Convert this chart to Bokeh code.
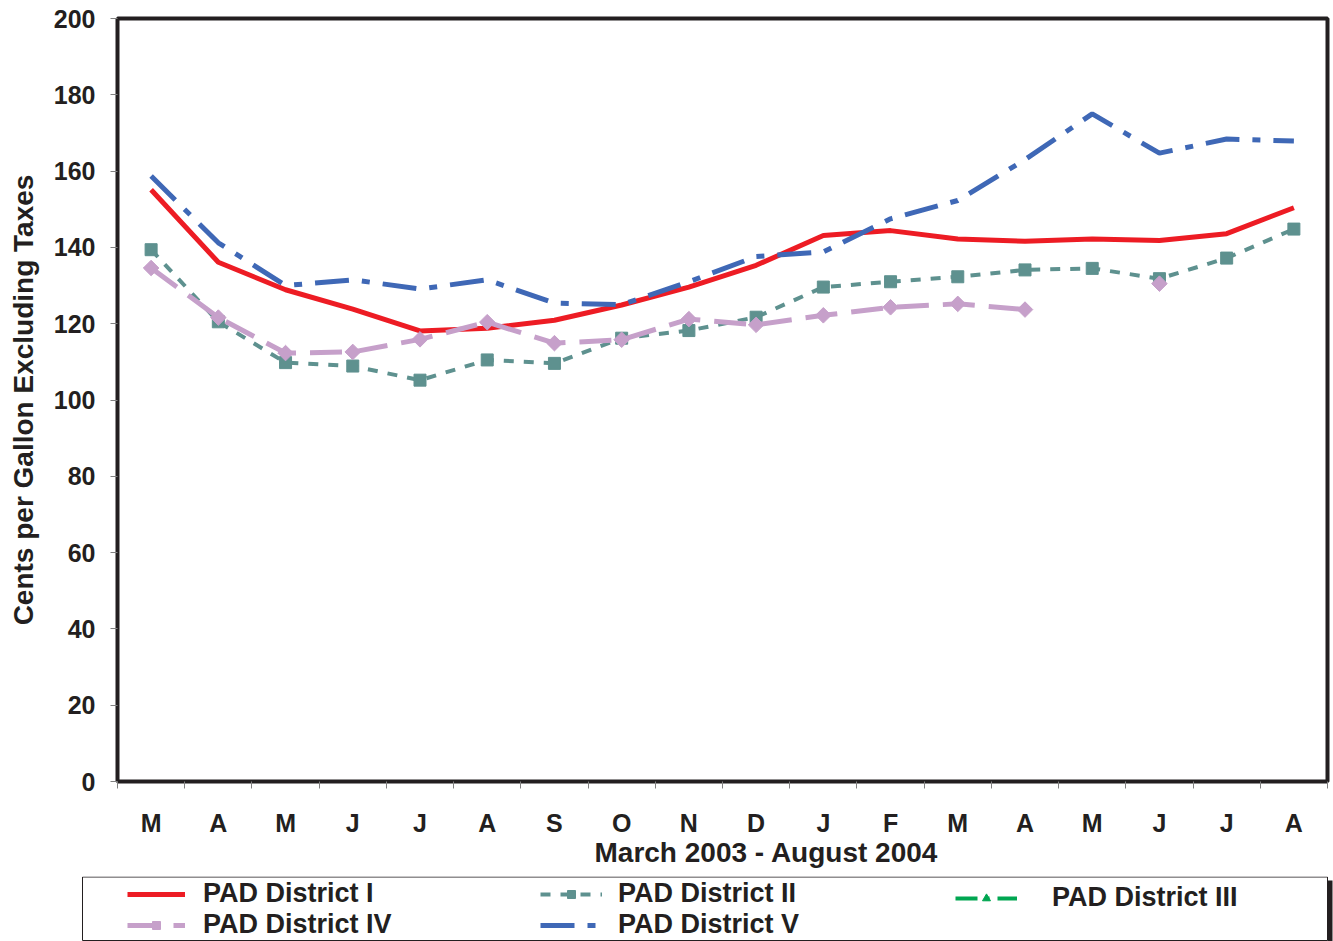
from bokeh.plotting import figure
from bokeh.layouts import column
from bokeh.models import Range1d, FixedTicker, Legend, LegendItem, Title
from bokeh.embed import file_html
from bokeh.resources import INLINE
import numpy as np

# ---- data -------------------------------------------------------------
months = ["M", "A", "M", "J", "J", "A", "S", "O", "N", "D",
          "J", "F", "M", "A", "M", "J", "J", "A"]
y_ticks = [0, 20, 40, 60, 80, 100, 120, 140, 160, 180, 200]
series_names = ["PAD District I", "PAD District II", "PAD District III",
                "PAD District IV", "PAD District V"]
pad1 = [155.1, 136.1, 128.9, 123.8, 118.1, 118.8, 120.9, 124.9, 129.6, 135.3,
        143.1, 144.4, 142.2, 141.6, 142.2, 141.8, 143.6, 150.4]
pad2 = [139.4, 120.5, 109.8, 108.9, 105.2, 110.5, 109.6, 116.2, 118.2, 121.7,
        129.6, 131.0, 132.3, 134.1, 134.5, 131.8, 137.2, 144.8]
pad3 = [None] * 18
pad4 = [134.6, 121.6, 112.3, 112.6, 115.9, 120.4, 114.9, 115.8, 121.2, 119.7,
        122.2, 124.3, 125.2, 123.7, None, 130.5, None, None]
pad5 = [158.7, 141.2, 130.0, 131.5, 129.1, 131.5, 125.4, 125.0, 131.0, 137.6,
        138.8, 147.5, 152.3, 163.0, 175.0, 164.7, 168.4, 167.9]

colors = ["#ED1C24", "#5E918F", "#00A651", "#C6A0CA", "#3F68B6"]
ink = "#231F20"
font = "Liberation Sans"

# line / marker styles per series
line_widths = [5, 4, 4, 5, 5]
line_dashes = ["solid", "10 10", "22 8 4 8", "32 14", "34 13 8 13"]
markers = [None, "square", "triangle", "square", None]
marker_sizes = [0, 12, 13, 11, 0]
marker_angles = [0, 0, 0, 0.785398, 0]


def arr(v):
    return np.array([np.nan if a is None else a for a in v], dtype=float)


def draw_series(fig, xs, ys, k):
    rs = [fig.line(xs, ys, line_color=colors[k], line_width=line_widths[k],
                   line_dash=line_dashes[k])]
    if markers[k]:
        rs.append(fig.scatter(xs, ys, marker=markers[k], size=marker_sizes[k],
                              angle=marker_angles[k], fill_color=colors[k],
                              line_color=colors[k]))
    return rs


def no_frame_align(fig):
    if "frame_align" in fig.properties():
        fig.frame_align = False


x = list(range(1, len(months) + 1))
series = [pad1, pad2, pad3, pad4, pad5]

# ---- main chart -------------------------------------------------------
p = figure(frame_width=1210, frame_height=763,
           min_border_left=117, min_border_right=6,
           min_border_top=18, min_border_bottom=95,
           x_range=Range1d(0.5, len(months) + 0.5), y_range=Range1d(0, 200),
           output_backend="svg", toolbar_location=None, tools="")
no_frame_align(p)
p.xgrid.visible = False
p.ygrid.visible = False
p.outline_line_color = ink
p.outline_line_width = 4
p.background_fill_color = "white"
p.border_fill_color = "white"

for k, s in enumerate(series):
    draw_series(p, x, arr(s), k)

p.xaxis.ticker = FixedTicker(ticks=x, minor_ticks=[i + 0.5 for i in range(len(months) + 1)])
p.xaxis.major_label_overrides = {i + 1: m for i, m in enumerate(months)}
p.xaxis.axis_line_color = None
p.xaxis.major_tick_out = 0
p.xaxis.major_tick_in = 0
p.xaxis.minor_tick_out = 7
p.xaxis.minor_tick_in = 0
p.xaxis.minor_tick_line_color = "#808080"
p.xaxis.major_label_standoff = 20
p.xaxis.major_label_text_font = font
p.xaxis.major_label_text_font_style = "bold"
p.xaxis.major_label_text_font_size = "25px"
p.xaxis.major_label_text_color = ink

p.yaxis.ticker = FixedTicker(ticks=y_ticks)
p.yaxis.axis_line_color = None
p.yaxis.major_tick_out = 7
p.yaxis.major_tick_in = 0
p.yaxis.major_tick_line_color = "#808080"
p.yaxis.minor_tick_line_color = None
p.yaxis.major_label_standoff = 15
p.yaxis.major_label_text_font = font
p.yaxis.major_label_text_font_style = "bold"
p.yaxis.major_label_text_font_size = "25px"
p.yaxis.major_label_text_color = ink
p.yaxis.axis_label = "Cents per Gallon Excluding Taxes"
p.yaxis.axis_label_standoff = 12
p.yaxis.axis_label_text_font = font
p.yaxis.axis_label_text_font_style = "bold"
p.yaxis.axis_label_text_font_size = "28px"
p.yaxis.axis_label_text_color = ink

xtitle = Title(text="March 2003 - August 2004", align="left", offset=477,
               standoff=-10, text_font=font, text_font_style="bold",
               text_font_size="28px", text_color=ink)
p.add_layout(xtitle, "below")

# ---- legend strip -----------------------------------------------------
lf = figure(frame_width=1333, frame_height=65,
            x_range=Range1d(0, 1333), y_range=Range1d(0, 65),
            min_border_left=0, min_border_right=0, min_border_top=0,
            min_border_bottom=0, x_axis_type=None, y_axis_type=None,
            output_backend="svg", toolbar_location=None, tools="")
no_frame_align(lf)
lf.outline_line_color = None
lf.background_fill_color = "white"
lf.border_fill_color = "white"

# legend box and its drop shadow
lf.quad(left=[1327], right=[1332], bottom=[0], top=[61],
        fill_color=ink, line_color=None)
lf.quad(left=[82], right=[1327], bottom=[1], top=[64.5],
        fill_color="white", line_color=ink, line_width=1)

proxies = [draw_series(lf, [np.nan], [np.nan], k) for k in range(len(series))]

legend_cols = [([0, 3], 127, 58, 18), ([1, 4], 540, 62, 16), ([2], 955, 62, 35)]
for idx, x0, gw, standoff in legend_cols:
    leg = Legend(items=[LegendItem(label=series_names[k], renderers=proxies[k])
                        for k in idx],
                 location=(x0, 1 if len(idx) == 2 else 28),
                 orientation="vertical", glyph_width=gw, glyph_height=20,
                 label_standoff=standoff, spacing=-8, padding=0, margin=0,
                 border_line_color=None, background_fill_alpha=0,
                 label_text_font=font, label_text_font_style="bold",
                 label_text_font_size="27px", label_text_color=ink)
    lf.add_layout(leg, "center")

layout = column(p, lf, spacing=0)
open("out.html", "w").write(file_html(layout, INLINE, title="PAD District prices"))
